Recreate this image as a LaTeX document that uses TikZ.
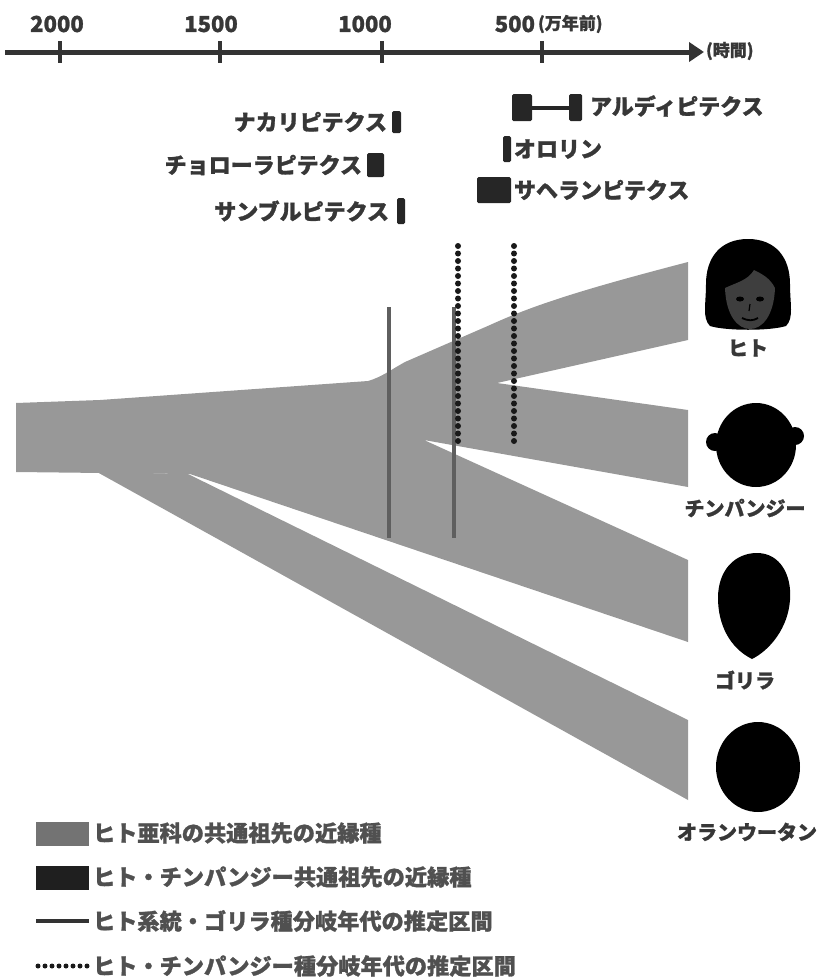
\documentclass[tikz,border=0pt]{standalone}
\usepackage{fontspec}
\setmainfont{Noto Sans CJK JP}[BoldFeatures={FakeBold=1.2}]
\usetikzlibrary{arrows.meta}
\definecolor{band}{RGB}{152,152,152}
\definecolor{inktext}{RGB}{55,55,55}
\definecolor{legtext}{RGB}{80,80,80}
\definecolor{gorline}{RGB}{95,95,95}
\definecolor{facegray}{RGB}{62,62,62}
\tikzset{
  every node/.style={inner sep=0pt,outer sep=0pt,font=\bfseries},
  axislabel/.style={text=inktext,font=\bfseries\fontsize{22}{24}\selectfont},
  unitlabel/.style={text=inktext,font=\bfseries\fontsize{17}{19}\selectfont},
  fossillabel/.style={text=inktext,font=\bfseries\fontsize{22}{24}\selectfont},
  speclabel/.style={text=inktext,font=\bfseries\fontsize{20}{22}\selectfont},
  legendlabel/.style={text=legtext,font=\bfseries\fontsize{22.2}{24}\selectfont,anchor=west},
  fossilbar/.style={fill=black!85,rounded corners=1.5pt},
  tickmark/.style={draw=black!80,line width=4pt},
  gorillarange/.style={draw=gorline,line width=4pt},
  chimprange/.style={draw=black!90,line width=6pt,line cap=round,dash pattern=on 0pt off 7.5pt},
}
\begin{document}
\begin{tikzpicture}[x=1pt,y=-1pt]
\useasboundingbox (0,0) rectangle (821,978);

% ---- time axis ----
\coordinate (axL) at (5,52);
\coordinate (axR) at (704,52);
\draw[black!80,line width=5pt,-{Triangle[length=15pt,width=19pt]}] (axL) -- (axR);
\foreach \x in {60,220,382,542}{
  \draw[tickmark] (\x,41) -- (\x,63);
}
\node[axislabel] (t2000) at (57,24) {2000};
\node[axislabel] (t1500) at (211,24) {1500};
\node[axislabel] (t1000) at (365,24) {1000};
\node[axislabel,anchor=east] (t500) at (535,24) {500};
\node[unitlabel,anchor=west] (tunit) at (538,24) {(万年前)};
\node[unitlabel,anchor=west] (ttime) at (706,51) {(時間)};

% ---- fossil ranges ----
\fill[fossilbar] (392,111) rectangle (401,133);
\node[fossillabel,anchor=east] (nak) at (387,122) {ナカリピテクス};
\fill[fossilbar] (367,153) rectangle (384,177);
\node[fossillabel,anchor=east] (cho) at (362,165) {チョローラピテクス};
\fill[fossilbar] (397,198) rectangle (405,224);
\node[fossillabel,anchor=east] (sam) at (389,211) {サンブルピテクス};

\fill[fossilbar] (512,94) rectangle (532,121);
\fill[fossilbar] (569,94) rectangle (582,121);
\draw[black!85,line width=3.5pt] (532,108) -- (569,108);
\node[fossillabel,anchor=west] (ard) at (590,106) {アルディピテクス};
\fill[fossilbar] (503,136) rectangle (511,162);
\node[fossillabel,anchor=west] (oro) at (514,149) {オロリン};
\fill[fossilbar] (477,177) rectangle (511,203);
\node[fossillabel,anchor=west] (sah) at (514,190) {サヘランピテクス};

% ---- lineage bands ----
\fill[band] (97,472) -- (688,800) -- (688,720) -- (188,474) -- cycle;
\fill[band] (16,403) -- (16,472) -- (190,474) -- (688,642) -- (688,560)
  -- (424,440) -- (688,487) -- (688,410) -- (497,383) -- (688,340)
  -- (688,262) .. controls (600,285) and (540,302) .. (490,325)
  -- (405,362) .. controls (392,369) and (382,377) .. (368,381)
  -- (100,400) -- cycle;

% ---- divergence estimates ----
\coordinate (g1t) at (389,307); \coordinate (g1b) at (389,538);
\coordinate (g2t) at (454,307); \coordinate (g2b) at (454,538);
\draw[gorillarange] (g1t) -- (g1b);
\draw[gorillarange] (g2t) -- (g2b);
\coordinate (c1t) at (458,246); \coordinate (c1b) at (458,448);
\coordinate (c2t) at (514,246); \coordinate (c2b) at (514,448);
\draw[chimprange] (c1t) -- (c1b);
\draw[chimprange] (c2t) -- (c2b);

% ---- human ----
\fill[black] (748,239) .. controls (776,239) and (790,258) .. (790,284)
  .. controls (790,304) and (794,318) .. (786,326)
  .. controls (770,331) and (726,331) .. (710,326)
  .. controls (702,318) and (706,304) .. (706,284)
  .. controls (706,258) and (720,239) .. (748,239) -- cycle;
\fill[facegray] (725,288) .. controls (726,316) and (738,329) .. (750,329)
  .. controls (762,329) and (774,316) .. (775,288)
  .. controls (770,278) and (762,274) .. (754,270)
  .. controls (748,280) and (738,282) .. (725,288) -- cycle;
\fill[black] (740,299) ellipse (4pt and 2.5pt);
\fill[black] (760,299) ellipse (4pt and 2.5pt);
\draw[black,line width=1.2pt] (750,304) -- (749,311);
\draw[black,line width=1.8pt] (742,318) .. controls (748,321) and (753,321) .. (758,318);
\node[speclabel] (hito) at (748,348) {ヒト};

% ---- chimpanzee ----
\fill[black] (715,442) circle (9pt);
\fill[black] (795,436) circle (9pt);
\fill[black] (756,445) ellipse (40pt and 42pt);
\node[speclabel] (chimp) at (745,508) {チンパンジー};

% ---- gorilla ----
\fill[black] (757,553) .. controls (780,553) and (792,575) .. (790,600)
  .. controls (788,628) and (770,650) .. (752,659)
  .. controls (730,648) and (718,625) .. (718,598)
  .. controls (718,570) and (735,553) .. (757,553) -- cycle;
\node[speclabel] (gor) at (745,680) {ゴリラ};

% ---- orangutan ----
\fill[black] (758,767) ellipse (42pt and 45pt);
\node[speclabel] (ora) at (747,832) {オランウータン};

% ---- legend ----
\fill[black!55] (36,822) rectangle (89,846);
\node[legendlabel] (leg1) at (93,833) {ヒト亜科の共通祖先の近縁種};
\fill[black!88] (36,866) rectangle (89,890);
\node[legendlabel] (leg2) at (93,877) {ヒト・チンパンジー共通祖先の近縁種};
\coordinate (l3a) at (36,921); \coordinate (l3b) at (89,921);
\draw[draw=black!80,line width=3.5pt] (l3a) -- (l3b);
\node[legendlabel] (leg3) at (93,921) {ヒト系統・ゴリラ種分岐年代の推定区間};
\coordinate (l4a) at (38,966); \coordinate (l4b) at (88,966);
\draw[chimprange,line width=5pt,dash pattern=on 0pt off 7pt] (l4a) -- (l4b);
\node[legendlabel] (leg4) at (93,966) {ヒト・チンパンジー種分岐年代の推定区間};
\end{tikzpicture}
\end{document}
